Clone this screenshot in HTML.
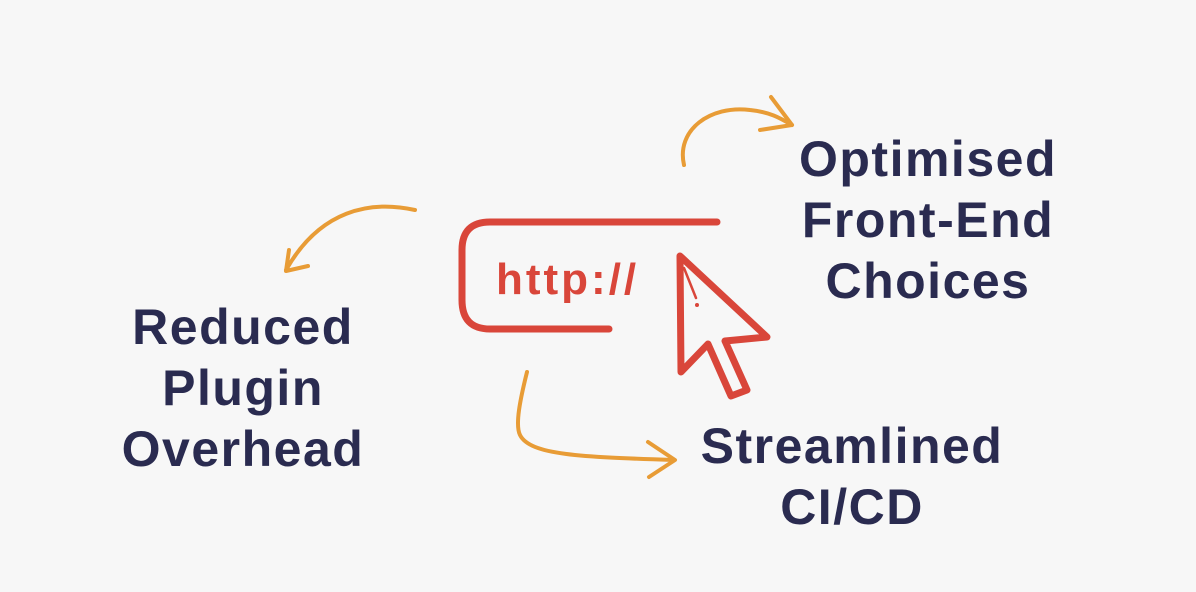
<!DOCTYPE html>
<html><head><style>
html,body{margin:0;padding:0;background:#f7f7f7;}
body{width:1196px;height:592px;position:relative;overflow:hidden;font-family:"Liberation Sans",sans-serif;}
.lbl{position:absolute;color:#2a2b50;font-weight:bold;font-size:50px;line-height:61px;text-align:center;letter-spacing:1.5px;}
</style></head><body>
<svg width="1196" height="592" style="position:absolute;left:0;top:0">
<g fill="none" stroke="#d9463a" stroke-width="7" stroke-linecap="round" stroke-linejoin="round">
<path d="M717,222 H490 Q462,222 462,250 V300 Q462,329 490,329 H609"/>
<path d="M680,256 L681,372 L708,344 L731,396 L747,390 L725,341 L767,337 Z"/>
<path d="M684,268 L696,298" stroke-width="2.5"/>
</g>
<circle cx="697" cy="305" r="2" fill="#d9463a"/>
<text x="496" y="294" font-family="Liberation Sans, sans-serif" font-size="44" font-weight="bold" fill="#d9463a" letter-spacing="3">http://</text>
<g fill="none" stroke="#e89c36" stroke-width="4" stroke-linecap="round" stroke-linejoin="round">
<path d="M684,165 C676,130 710,105 750,110 C770,112 780,118 792,125"/>
<path d="M771,97 L792,125 L760,130"/>
<path d="M415,210 C370,200 320,210 286,270"/>
<path d="M289,250 L286,271 L308,266"/>
<path d="M527,372 C520,400 515,425 520,435 C530,455 580,457 674,460"/>
<path d="M648,442 L675,460 L649,477"/>
</g>
</svg>
<div class="lbl" style="left:758px;top:129px;width:340px">Optimised<br>Front-End<br>Choices</div>
<div class="lbl" style="left:73px;top:297px;width:340px">Reduced<br>Plugin<br>Overhead</div>
<div class="lbl" style="left:682px;top:416px;width:340px">Streamlined<br>CI/CD</div>
</body></html>
